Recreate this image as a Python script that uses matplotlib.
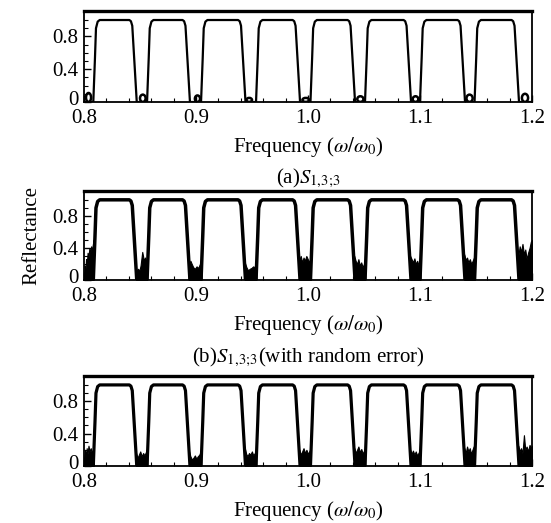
import matplotlib
matplotlib.use("Agg")
import matplotlib.pyplot as plt
import matplotlib.transforms as mtransforms
from matplotlib.patches import Ellipse
from matplotlib.ticker import FixedLocator

plt.rcParams['font.family'] = ['Liberation Serif', 'DejaVu Serif']
plt.rcParams['mathtext.fontset'] = 'stix'

# band edges (foot of rising / falling edge)
band_rise = [0.8083, 0.8563, 0.9045, 0.9536, 1.0022, 1.0509, 1.1000, 1.1487]
band_fall = [0.8471, 0.8946, 0.9442, 0.9929, 1.0420, 1.0920, 1.1402, 1.1884]
# edge profile (offset from the foot, reflectance)
rise_dx = [0.0, 0.0015, 0.0024, 0.0039, 0.0057]
rise_y = [0.0, 0.54, 0.90, 0.98, 1.0]
fall_dx = [-0.0066, -0.0052, -0.0040, 0.0]
fall_y = [1.0, 0.985, 0.93, 0.0]

# small side lobes in (a)
bump_left = [0.8018, 0.8500, 0.8990, 0.9450, 0.9950, 1.0440, 1.0935, 1.1415, 1.1910]
bump_right = [0.8063, 0.8550, 0.9036, 0.9500, 1.0010, 1.0495, 1.0985, 1.1470, 1.1965]
bump_h = [0.11, 0.09, 0.08, 0.05, 0.05, 0.07, 0.07, 0.09, 0.10]

# noisy fill in the gaps of the middle panel
gaps_b_x = [
    [0.8000, 0.8006, 0.8012, 0.8018, 0.8025, 0.8032, 0.8040, 0.8048, 0.8056, 0.8064, 0.8072, 0.8080, 0.8086],
    [0.8465, 0.8480, 0.8495, 0.8505, 0.8512, 0.8520, 0.8527, 0.8535, 0.8545, 0.8555, 0.8565],
    [0.8935, 0.8950, 0.8962, 0.8975, 0.8990, 0.9005, 0.9020, 0.9035, 0.9050],
    [0.9435, 0.9450, 0.9465, 0.9480, 0.9495, 0.9510, 0.9525, 0.9540],
    [0.9922, 0.9935, 0.9948, 0.9960, 0.9972, 0.9985, 0.9998, 1.0010, 1.0025],
    [1.0413, 1.0425, 1.0438, 1.0450, 1.0462, 1.0475, 1.0488, 1.0500, 1.0512],
    [1.0912, 1.0925, 1.0937, 1.0950, 1.0962, 1.0975, 1.0988, 1.1003],
    [1.1395, 1.1408, 1.1420, 1.1432, 1.1445, 1.1458, 1.1470, 1.1482, 1.1490],
    [1.1878, 1.1890, 1.1902, 1.1915, 1.1928, 1.1940, 1.1952, 1.1965, 1.1978, 1.1990, 1.2000],
]
gaps_b_y = [
    [0.05, 0.18, 0.10, 0.26, 0.20, 0.34, 0.28, 0.40, 0.34, 0.42, 0.36, 0.45, 0.50],
    [0.10, 0.14, 0.12, 0.18, 0.26, 0.35, 0.30, 0.24, 0.28, 0.22, 0.30],
    [0.18, 0.24, 0.20, 0.16, 0.14, 0.17, 0.15, 0.20, 0.25],
    [0.22, 0.16, 0.12, 0.14, 0.15, 0.17, 0.16, 0.22],
    [0.25, 0.30, 0.22, 0.28, 0.24, 0.30, 0.26, 0.22, 0.28],
    [0.30, 0.24, 0.20, 0.26, 0.18, 0.22, 0.16, 0.20, 0.28],
    [0.30, 0.26, 0.22, 0.27, 0.20, 0.24, 0.18, 0.25],
    [0.32, 0.25, 0.28, 0.22, 0.26, 0.20, 0.24, 0.28, 0.30],
    [0.30, 0.42, 0.35, 0.45, 0.32, 0.38, 0.26, 0.34, 0.40, 0.48, 0.50],
]
# noisy fill in the gaps of the bottom panel (with random error)
gaps_c_x = [
    [0.8000, 0.8008, 0.8016, 0.8024, 0.8032, 0.8040, 0.8050, 0.8060, 0.8070, 0.8080, 0.8088],
    [0.8465, 0.8478, 0.8490, 0.8502, 0.8515, 0.8528, 0.8540, 0.8552, 0.8566],
    [0.8938, 0.8950, 0.8963, 0.8976, 0.8990, 0.9003, 0.9016, 0.9030, 0.9047],
    [0.9436, 0.9448, 0.9460, 0.9473, 0.9486, 0.9499, 0.9512, 0.9525, 0.9538],
    [0.9923, 0.9935, 0.9948, 0.9960, 0.9973, 0.9986, 0.9999, 1.0011, 1.0024],
    [1.0414, 1.0426, 1.0438, 1.0450, 1.0463, 1.0476, 1.0488, 1.0500, 1.0511],
    [1.0913, 1.0925, 1.0937, 1.0950, 1.0962, 1.0974, 1.0986, 1.1002],
    [1.1396, 1.1408, 1.1420, 1.1432, 1.1444, 1.1456, 1.1468, 1.1479, 1.1489],
    [1.1878, 1.1890, 1.1902, 1.1915, 1.1928, 1.1940, 1.1952, 1.1965, 1.1978, 1.1990, 1.2000],
]
gaps_c_y = [
    [0.08, 0.20, 0.12, 0.22, 0.15, 0.25, 0.18, 0.22, 0.16, 0.20, 0.35],
    [0.16, 0.10, 0.14, 0.18, 0.12, 0.16, 0.13, 0.17, 0.22],
    [0.18, 0.12, 0.08, 0.10, 0.13, 0.09, 0.12, 0.14, 0.20],
    [0.22, 0.15, 0.12, 0.16, 0.14, 0.18, 0.13, 0.16, 0.20],
    [0.20, 0.14, 0.18, 0.22, 0.16, 0.20, 0.15, 0.18, 0.22],
    [0.22, 0.16, 0.20, 0.24, 0.17, 0.21, 0.15, 0.19, 0.22],
    [0.20, 0.15, 0.19, 0.14, 0.18, 0.13, 0.16, 0.20],
    [0.22, 0.16, 0.24, 0.18, 0.22, 0.15, 0.20, 0.24, 0.26],
    [0.25, 0.18, 0.22, 0.16, 0.38, 0.20, 0.24, 0.18, 0.26, 0.22, 0.25],
]

x_ticks = [0.8, 0.9, 1.0, 1.1, 1.2]
x_ticklabels = ['0.8', '0.9', '1.0', '1.1', '1.2']
y_ticks = [0, 0.4, 0.8]
y_ticklabels = ['0', '0.4', '0.8']
captions = [r'(a)$S_{1,\!3;\!3}$', r'(b)$S_{1,\!3;\!3}$(with random error)']

# build the band outline
curve_x = [0.8]
curve_y = [0.0]
for r, f in zip(band_rise, band_fall):
    for dx, yy in zip(rise_dx, rise_y):
        curve_x.append(r + dx)
        curve_y.append(yy)
    for dx, yy in zip(fall_dx, fall_y):
        curve_x.append(f + dx)
        curve_y.append(yy)
curve_x.append(1.2)
curve_y.append(0.0)

W, H = 551, 523
fig = plt.figure(figsize=(W / 100, H / 100), dpi=100)

# axes boxes in pixels: (top, bottom)
boxes = [(11, 102), (191, 280), (376, 466)]
left_px, right_px = 84, 532

axes = []
for top, bot in boxes:
    ax = fig.add_axes([left_px / W, 1 - bot / H, (right_px - left_px) / W, (bot - top) / H])
    axes.append(ax)

def style(ax):
    ax.set_xlim(0.8, 1.2)
    ax.set_ylim(0, 1.11)
    ax.set_xticks(x_ticks)
    ax.set_xticklabels(x_ticklabels)
    ax.set_yticks(y_ticks)
    ax.set_yticklabels(y_ticklabels)
    ax.yaxis.set_minor_locator(FixedLocator([0.1, 0.2, 0.3, 0.5, 0.6, 0.7, 0.9, 1.0]))
    ax.xaxis.set_minor_locator(FixedLocator([0.82, 0.84, 0.86, 0.88, 0.92, 0.94, 0.96, 0.98,
                                             1.02, 1.04, 1.06, 1.08, 1.12, 1.14, 1.16, 1.18]))
    ax.tick_params(which='both', direction='in', top=False, right=False, labelsize=15)
    ax.tick_params(axis='x', pad=5)
    ax.tick_params(axis='y', pad=4)
    ax.tick_params(which='major', length=5, width=1)
    ax.tick_params(which='minor', length=3, width=0.8)
    for s in ['left', 'right', 'bottom']:
        ax.spines[s].set_linewidth(1.3)
    ax.spines['top'].set_linewidth(2.4)
    ax.set_xlabel(r'Frequency ($\omega/\omega_0$)', fontsize=15, labelpad=5)
    # the "0" label sits a little above the axis line in the original
    lab0 = ax.get_yticklabels()[0]
    lab0.set_transform(lab0.get_transform() +
                       mtransforms.ScaledTranslation(0, 4 / 100, fig.dpi_scale_trans))

# top panel
ax = axes[0]
ax.plot(curve_x, curve_y, color='black', lw=1.6)
for l, r, h in zip(bump_left, bump_right, bump_h):
    ax.add_patch(Ellipse(((l + r) / 2, h / 2), r - l, h, fill=False, ec='black', lw=1.8))
style(ax)

# middle panel
ax = axes[1]
ax.plot(curve_x, curve_y, color='black', lw=2.5)
for gx, gy in zip(gaps_b_x, gaps_b_y):
    ax.fill_between(gx, 0, gy, color='black', lw=0.8)
style(ax)
ax.set_ylabel('Reflectance', fontsize=15, labelpad=8)

# bottom panel
ax = axes[2]
ax.plot(curve_x, curve_y, color='black', lw=2.3)
for gx, gy in zip(gaps_c_x, gaps_c_y):
    ax.fill_between(gx, 0, gy, color='black', lw=0.8)
style(ax)

fig.text(308 / W, 1 - 178 / H, captions[0], ha='center', va='center', fontsize=15)
fig.text(308 / W, 1 - 357 / H, captions[1], ha='center', va='center', fontsize=15)

fig.savefig('out.png', dpi=100)
